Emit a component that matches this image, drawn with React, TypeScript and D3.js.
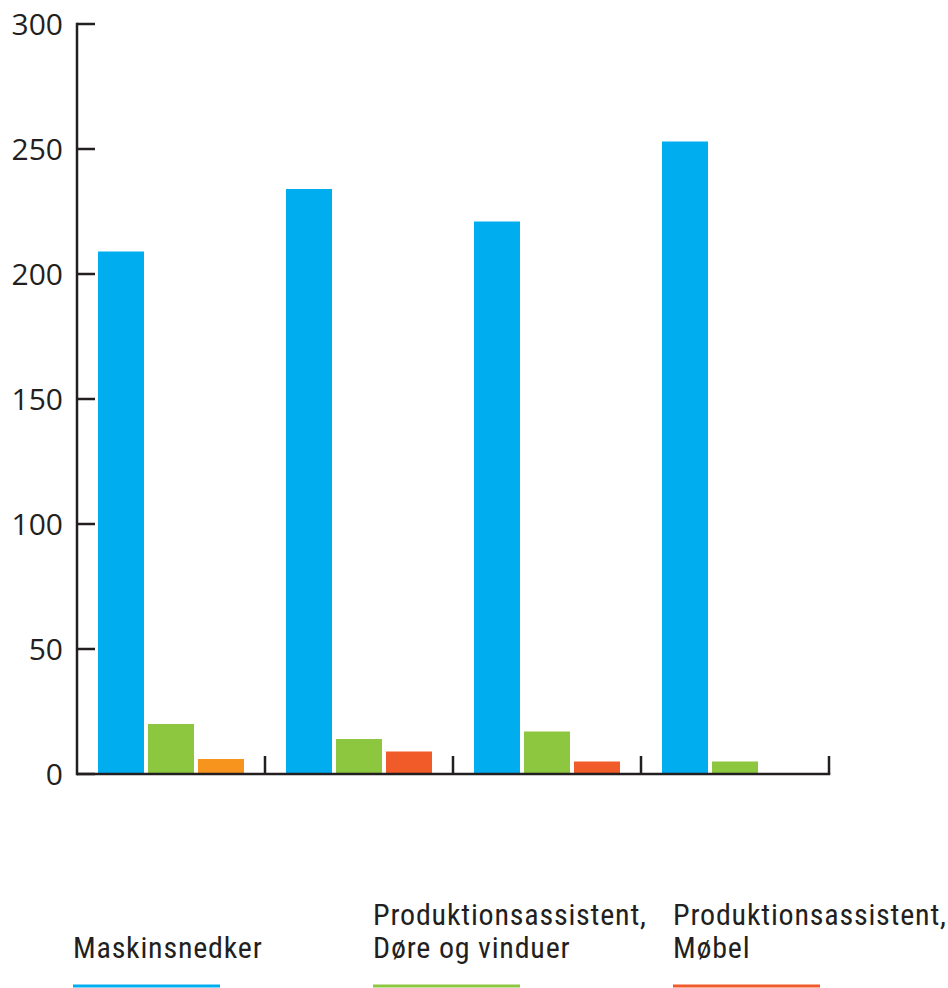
import React from "react";
import * as d3 from "d3";

const groups = ["G1", "G2", "G3", "G4"];
const seriesNames = [
  ["Maskinsnedker"],
  ["Produktionsassistent,", "Døre og vinduer"],
  ["Produktionsassistent,", "Møbel"],
];
const maskinsnedker = [209, 234, 221, 253];
const doreVinduer = [20, 14, 17, 5];
const mobel = [6, 9, 5, 0.4];
const yTicks = [0, 50, 100, 150, 200, 250, 300];

const seriesColors = ["#00AEEF", "#8DC63F", "#F15A29"];
const firstGroupMobelColor = "#F7941D";

export default function App() {
  const W = 948, H = 988;
  const axisColor = "#231F20";
  const y = d3.scaleLinear().domain([0, 300]).range([774, 24]);
  const x = d3.scaleBand<string>().domain(groups).range([77, 829]).paddingInner(0).paddingOuter(0);
  const seriesKeys = ["0", "1", "2"];
  const bw = x.bandwidth();
  const xs = d3.scaleBand<string>().domain(seriesKeys).range([21, bw - 21]).paddingInner(0.08).paddingOuter(0);
  const values = [maskinsnedker, doreVinduer, mobel];
  const legendX = d3.scaleBand<string>().domain(seriesKeys).range([73, 973]).paddingInner(0).paddingOuter(0);

  return (
    <svg width={W} height={H} style={{ position: "absolute", left: 0, top: 0 }} xmlns="http://www.w3.org/2000/svg">
      <rect width={W} height={H} fill="#fff" />
      {groups.map((g, gi) =>
        values.map((vals, si) => {
          const v = vals[gi];
          const color = si === 2 && gi === 0 ? firstGroupMobelColor : seriesColors[si];
          return (
            <rect
              key={g + si}
              x={(x(g) as number) + (xs(String(si)) as number)}
              y={y(v)}
              width={xs.bandwidth()}
              height={y(0) - y(v)}
              fill={si === 2 && gi === 3 ? "#7a3a2a" : color}
            />
          );
        })
      )}
      {/* y axis */}
      <line x1={77} x2={77} y1={y(300) - 1.25} y2={y(0) + 1.25} stroke={axisColor} strokeWidth={2.5} />
      {yTicks.map((t) => (
        <g key={t}>
          <line x1={77} x2={95} y1={y(t)} y2={y(t)} stroke={axisColor} strokeWidth={2.5} />
          <text
            x={63}
            y={y(t)}
            dy="0.36em"
            textAnchor="end"
            fontFamily="'Open Sans', sans-serif"
            fontSize={30}
            fill={axisColor}
          >
            {t}
          </text>
        </g>
      ))}
      {/* x axis */}
      <line x1={77} x2={829 + 1.25} y1={y(0)} y2={y(0)} stroke={axisColor} strokeWidth={2.5} />
      {groups.map((g) => {
        const xe = (x(g) as number) + bw;
        return <line key={"t" + g} x1={xe} x2={xe} y1={y(0)} y2={y(0) - 18} stroke={axisColor} strokeWidth={2.5} />;
      })}
      {/* legend */}
      {seriesNames.map((lines, si) => {
        const lx = legendX(String(si)) as number;
        const n = lines.length;
        return (
          <g key={"l" + si}>
            {lines.map((ln, li) => (
              <text
                key={li}
                x={lx}
                y={958 - (n - 1 - li) * 33}
                fontFamily="'Liberation Sans Narrow', 'Roboto Condensed', 'Arial Narrow', sans-serif"
                fontSize={30}
                letterSpacing={0.8}
                fill={axisColor}
              >
                {ln}
              </text>
            ))}
            <line x1={lx} x2={lx + 147} y1={986} y2={986} stroke={seriesColors[si]} strokeWidth={3} />
          </g>
        );
      })}
    </svg>
  );
}
